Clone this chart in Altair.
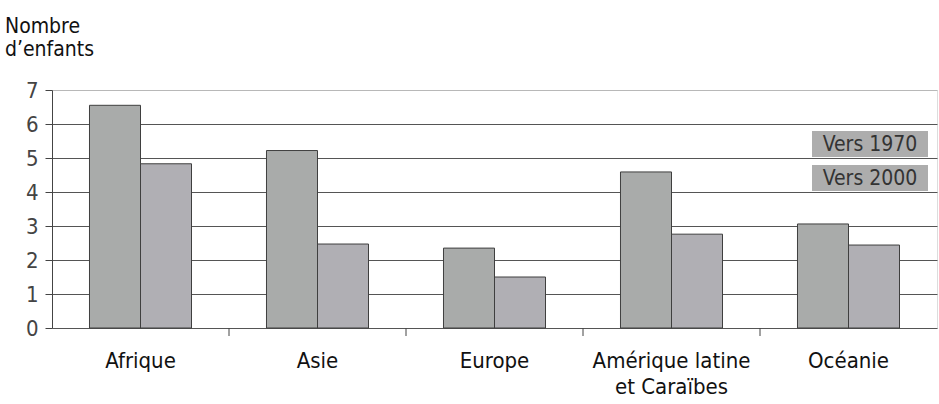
import altair as alt
import pandas as pd

regions = ["Afrique", "Asie", "Europe", "Amérique latine et Caraïbes", "Océanie"]
series = ["Vers 1970", "Vers 2000"]
values_1970 = [6.55, 5.22, 2.35, 4.59, 3.06]
values_2000 = [4.83, 2.47, 1.50, 2.76, 2.44]

rows = []
for r, a, b in zip(regions, values_1970, values_2000):
    rows.append({"region": r, "series": series[0], "value": a})
    rows.append({"region": r, "series": series[1], "value": b})
df = pd.DataFrame(rows)

FONT = "DejaVu Sans Condensed, sans-serif"
W, H = 885, 238

x_enc = alt.X(
    "region:N",
    sort=regions,
    scale=alt.Scale(paddingInner=0, paddingOuter=0),
    axis=alt.Axis(
        title=None,
        labelAngle=0,
        ticks=False,
        domain=False,
        labelFont=FONT,
        labelFontSize=22,
        labelColor="#111111",
        labelPadding=22,
        labelLineHeight=26,
        labelBaseline="top",
        labelExpr="datum.value == 'Amérique latine et Caraïbes' ? ['Amérique latine', 'et Caraïbes'] : datum.value",
    ),
)

bars = alt.Chart(df).mark_bar(stroke="#3f3f3f", strokeWidth=1).encode(
    x=x_enc,
    xOffset=alt.XOffset("series:N", sort=series,
                        scale=alt.Scale(paddingInner=0, paddingOuter=0.735)),
    y=alt.Y(
        "value:Q",
        scale=alt.Scale(domain=[0, 7], nice=False),
        axis=alt.Axis(
            title=None,
            values=list(range(0, 8)),
            grid=True,
            gridColor=alt.condition("datum.value == 7", alt.value("#b8b8b8"), alt.value("#555555")),
            gridWidth=1,
            domainColor="#444444",
            tickColor="#444444",
            tickSize=7,
            labelFont=FONT,
            labelFontSize=22,
            labelColor="#444444",
            labelPadding=7,
        ),
    ),
    color=alt.Color("series:N", sort=series,
                    scale=alt.Scale(domain=series, range=["#a9abaa", "#b0afb4"]),
                    legend=None),
)

# small ticks below the baseline at the boundaries between regions
sep = alt.Chart(pd.DataFrame({"region": regions[1:]})).mark_rule(
    color="#444444", strokeWidth=1
).encode(
    x=alt.X("region:N", sort=regions, bandPosition=0),
    y=alt.value(H),
    y2=alt.value(H + 8),
)

# legend: grey boxes with the series names written on them
legend_layers = []
for i, name in enumerate(series):
    top = 41 + i * 34
    box = alt.Chart(pd.DataFrame({"s": [name]})).mark_rect(color="#adadad").encode(
        x=alt.value(760), x2=alt.value(876), y=alt.value(top), y2=alt.value(top + 26)
    )
    txt = alt.Chart(pd.DataFrame({"s": [name]})).mark_text(
        font=FONT, fontSize=21, color="#333333", align="center", baseline="middle"
    ).encode(text="s:N", x=alt.value(818), y=alt.value(top + 14))
    legend_layers += [box, txt]

chart = alt.layer(bars, sep, *legend_layers).properties(
    width=W,
    height=H,
    autosize=alt.AutoSizeParams(type="none"),
    padding={"left": 52, "top": 90, "right": 2, "bottom": 76},
    title=alt.TitleParams(
        text=["Nombre", "d’enfants"],
        anchor="start",
        frame="group",
        font=FONT,
        fontSize=21,
        fontWeight="normal",
        color="#111111",
        lineHeight=23,
        dx=-47,
        offset=19,
    ),
).configure_view(stroke=None).configure(background="white")

chart.save("out.html", embed_options={"renderer": "svg", "actions": False})
